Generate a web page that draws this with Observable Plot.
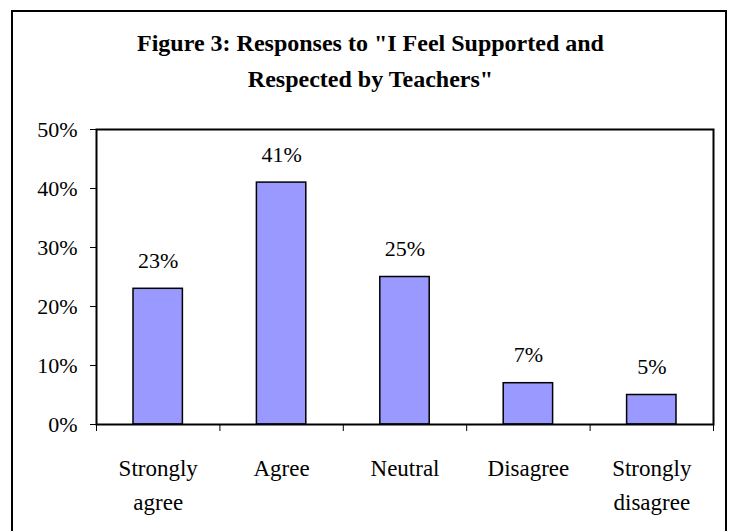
<!DOCTYPE html>
<html>
<head>
<meta charset="utf-8">
<script src="https://cdn.jsdelivr.net/npm/d3@7"></script>
<script src="https://cdn.jsdelivr.net/npm/@observablehq/plot@0.6"></script>
<style>
  html, body { margin: 0; padding: 0; background: #fff; }
  #chart { position: relative; width: 731px; height: 531px; overflow: hidden; background: #fff; }
  #border { position: absolute; left: 11px; top: 10px; width: 716px; height: 560px; border: 2px solid #000; box-sizing: border-box; pointer-events: none; }
  #title { position: absolute; left: 12px; top: 25px; width: 717px; text-align: center;
           font: bold 24px/36px "Liberation Serif", "Times New Roman", serif; color: #000; }
  #chart svg { position: absolute; left: 0; top: 0; }
</style>
</head>
<body>
<div id="chart">
  <div id="title">Figure 3: Responses to "I Feel Supported and<br>Respected by Teachers"</div>
  <div id="border"></div>
</div>
<script>
// Survey responses: share of students per answer
const categories = ["Strongly\nagree", "Agree", "Neutral", "Disagree", "Strongly\ndisagree"];
const shares = [0.23, 0.41, 0.25, 0.07, 0.05];
const yTicks = [0, 0.1, 0.2, 0.3, 0.4, 0.5];

const rows = categories.map((category, i) => ({category, index: i, share: shares[i]}));
const boundaries = d3.range(categories.length + 1);
const pct = d3.format(".0%");

const plot = Plot.plot({
  width: 731,
  height: 531,
  marginLeft: 96,
  marginRight: 18,
  marginTop: 129,
  marginBottom: 107,
  style: {fontFamily: "'Liberation Serif', 'Times New Roman', serif", fontSize: "22px", color: "#000", background: "transparent"},
  x: {domain: [0, categories.length], axis: null, label: null},
  y: {domain: [0, 0.5], axis: null, label: null},
  marks: [
    Plot.rectY(rows, {
      x1: d => d.index, x2: d => d.index + 1, y: "share",
      insetLeft: 37, insetRight: 37,
      fill: "#9999FF", stroke: "#000", strokeWidth: 1.5
    }),
    Plot.frame({stroke: "#000", strokeWidth: 2}),
    Plot.axisY({ticks: yTicks, tickFormat: pct, tickSize: 6, tickPadding: 13, fontSize: 22, label: null}),
    Plot.axisX({ticks: boundaries, tickFormat: () => "", tickSize: 7, label: null}),
    Plot.text(rows, {
      x: d => d.index + 0.5, y: "share", text: d => pct(d.share),
      dy: -28, fontSize: 22
    }),
    Plot.text(rows, {
      x: d => d.index + 0.5, y: 0, text: "category",
      lineAnchor: "top", lineHeight: 1.45, dy: 28, fontSize: 23
    })
  ]
});

document.getElementById("chart").prepend(plot);
</script>
</body>
</html>
